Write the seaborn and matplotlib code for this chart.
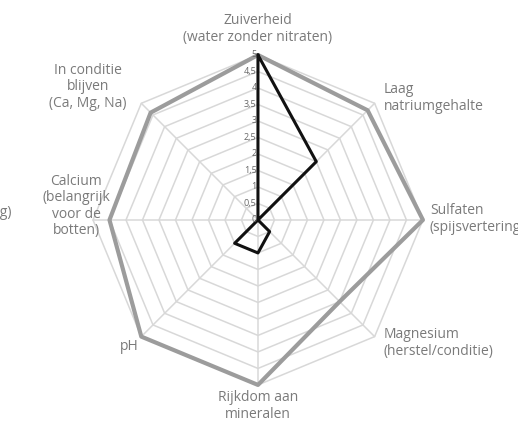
import numpy as np
import pandas as pd
import matplotlib
matplotlib.use('Agg')
import matplotlib.pyplot as plt
import matplotlib.transforms as mtransforms
import seaborn as sns

# Data (clockwise from the top)
categories = ['Zuiverheid', 'Laag natriumgehalte', 'Sulfaten', 'Magnesium',
              'Rijkdom aan mineralen', 'pH', 'Calcium', 'In conditie blijven']
gray_values = [5, 4.7, 5, 3.5, 5, 5, 4.5, 4.6]
black_values = [5, 2.5, 0, 0.5, 1, 1, 0, 0]
tick_values = [0, 0.5, 1, 1.5, 2, 2.5, 3, 3.5, 4, 4.5, 5]
tick_labels = ['0', '0,5', '1', '1,5', '2', '2,5', '3', '3,5', '4', '4,5', '5']

sns.set_style('white')
plt.rcParams['font.family'] = ['Open Sans', 'DejaVu Sans']

W, H = 518, 423
fig = plt.figure(figsize=(W / 100, H / 100), dpi=100)
ax = fig.add_axes([0.1795, 0.09, 0.637, 0.780], projection='polar')
ax.set_theta_zero_location('N')
ax.set_theta_direction(-1)
ax.set_ylim(0, 5)

n = len(categories)
theta = np.arange(n) * 2 * np.pi / n
theta_closed = np.append(theta, theta[0])

grid_color = '#d8d8d8'
# polygon grid
for lvl in tick_values[1:]:
    ax.plot(theta_closed, [lvl] * (n + 1), color=grid_color, lw=1.1, zorder=1, clip_on=False)
# spokes
for t in theta:
    ax.plot([t, t], [0, 5], color=grid_color, lw=1.1, zorder=1, clip_on=False)

df = pd.DataFrame({
    'theta': np.concatenate([theta_closed, theta_closed]),
    'value': gray_values + gray_values[:1] + black_values + black_values[:1],
    'serie': ['grijs'] * (n + 1) + ['zwart'] * (n + 1),
})

sns.lineplot(data=df[df['serie'] == 'grijs'], x='theta', y='value', sort=False,
             estimator=None, color='#9c9c9c', lw=3.0, ax=ax, zorder=3, clip_on=False)
sns.lineplot(data=df[df['serie'] == 'zwart'], x='theta', y='value', sort=False,
             estimator=None, color='#111111', lw=2.2, ax=ax, zorder=4, clip_on=False)

ax.grid(False)
ax.set_xticks([])
ax.set_yticks([])
ax.set_xlabel('')
ax.set_ylabel('')
ax.spines['polar'].set_visible(False)
ax.patch.set_alpha(0)

# radial tick labels next to the vertical spoke
off = mtransforms.offset_copy(ax.transData, fig=fig, x=-1.0, y=0, units='points')
for v, lab in zip(tick_values, tick_labels):
    ax.text(0, v, lab, transform=off, ha='right', va='center', fontsize=6.5,
            color='#666666', zorder=5)

# category labels
txt = dict(fontsize=10, color='#7a7a7a', linespacing=1.12)

def px(x, y):
    return x / W, 1 - y / H

fig.text(*px(258, 29), 'Zuiverheid\n(water zonder nitraten)', ha='center', va='center', **txt)
fig.text(*px(384, 98), 'Laag\nnatriumgehalte', ha='left', va='center', **txt)
fig.text(*px(430, 219), 'Sulfaten\n(spijsvertering)', ha='left', va='center', **txt)
fig.text(*px(384, 343), 'Magnesium\n(herstel/conditie)', ha='left', va='center', **txt)
fig.text(*px(258, 406), 'Rijkdom aan\nmineralen', ha='center', va='center', **txt)
fig.text(*px(139, 346), 'pH', ha='right', va='center', **txt)
fig.text(*px(76, 206), 'Calcium\n(belangrijk\nvoor de\nbotten)', ha='center', va='center', **txt)
fig.text(*px(88, 87), 'In conditie\nblijven\n(Ca, Mg, Na)', ha='center', va='center', **txt)
fig.text(*px(12, 212), '(spijsvertering)', ha='right', va='center', **txt)

fig.savefig('out.png', dpi=100)
